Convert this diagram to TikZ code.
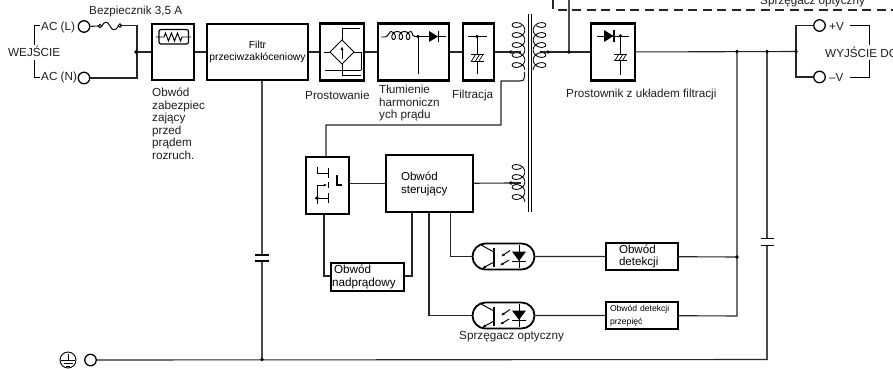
\documentclass[tikz,border=0pt]{standalone}
\usepackage{fontspec}
\setmainfont{Liberation Sans}
\usetikzlibrary{shapes.misc,arrows.meta}
\tikzset{
 x=1pt,y=-1pt,
 wire/.style={line width=1.1pt,draw=black!85},
 sym/.style={line width=.95pt,draw=black},
 tbox/.style={draw=black,line width=2.4pt,inner sep=0pt,fill=white},
 lbl/.style={inner sep=0pt,anchor=west,align=left,font=\fontsize{11.7}{12.5}\selectfont,text=black!88},
 jdot/.style={circle,fill=black,inner sep=0pt,minimum size=3.6pt},
 term/.style={circle,draw=black,line width=1.3pt,fill=white,inner sep=0pt,minimum size=11.5pt},
 plate/.style={line width=1.7pt,draw=black},
 optobox/.style={rounded rectangle,draw=black,line width=1.8pt,inner sep=0pt,minimum width=62pt,minimum height=26pt,fill=white},
}
\newcommand{\coilL}[3]{\draw[sym,line width=.85pt] plot[domain=60:#3,samples=130,smooth,variable=\t] ({#1+6.3*cos(\t)},{#2+\t/36+4.6*sin(\t)});}
\newcommand{\coilR}[3]{\draw[sym,line width=.85pt] plot[domain=60:#3,samples=130,smooth,variable=\t] ({#1-6.3*cos(\t)},{#2+\t/36+4.6*sin(\t)});}
\newcommand{\capfilt}[2]{%
 \draw[sym] (#1-6.5,#2) -- (#1+6.5,#2) (#1-6.5,#2+6.5) -- (#1+6.5,#2+6.5);
 \draw[sym,line width=.7pt] (#1-5.5,#2+6.5) -- (#1-1.5,#2) (#1-1.5,#2+6.5) -- (#1+2.5,#2) (#1+2,#2+6.5) -- (#1+6,#2);}
\newcommand{\optoguts}{%
 \draw[line width=1.8pt] (494,248) -- (494,267);
 \draw[sym] (481,245) -- (494,252);
 \draw[sym,-{Latex[length=4pt,width=3pt]}] (494,262) -- (482,268.5);
 \draw[sym,{Latex[length=3.5pt,width=3pt]}-] (501,256.5) -- (510,250.5);
 \draw[sym,{Latex[length=3.5pt,width=3pt]}-] (500,265.5) -- (509,260);
 \draw[sym] (519,245) -- (519,268);
 \fill (512,251.5) -- (526,251.5) -- (519,261) -- cycle;
 \draw[line width=1.3pt] (512,261.5) -- (526,261.5);}
\begin{document}
\begin{tikzpicture}
\useasboundingbox[fill=white] (0,0) rectangle (893,368);
% coordinates
\coordinate (jin) at (136,52);
\coordinate (fuseA) at (100,26);
\coordinate (fuseB) at (120,25.5);
\coordinate (jp) at (511,52);
\coordinate (js) at (548,52);
\coordinate (jopt) at (569,52);
\coordinate (topA) at (569,0);
\coordinate (dashA) at (553,0);
\coordinate (dashB) at (553,10);
\coordinate (dashC) at (893,10);
\coordinate (j1) at (737,51.5);
\coordinate (j2) at (767,51.5);
\coordinate (j3) at (796,51.5);
\coordinate (jdet) at (737,257);
\coordinate (jdetb) at (737,316);
\coordinate (jgnd) at (262,359.5);
\coordinate (jgndr) at (767,359.5);
\coordinate (capAt) at (262,255);
\coordinate (capAb) at (262,261);
\coordinate (capBt) at (767,238.5);
\coordinate (capBb) at (767,245.5);
\coordinate (jc) at (511,183);
% boxes
\node[tbox,minimum width=42pt,minimum height=56pt] (surge) at (173,52) {};
\node[tbox,minimum width=101pt,minimum height=56pt,align=center,font=\fontsize{10.3}{13}\selectfont] (emi) at (257.5,52) {Filtr\\[-.5pt]przeciwzakłóceniowy};
\node[tbox,minimum width=44pt,minimum height=57pt] (rect) at (342,52) {};
\node[tbox,minimum width=71pt,minimum height=57pt] (harm) at (413.5,52) {};
\node[tbox,minimum width=31pt,minimum height=57pt] (filt) at (478.5,52) {};
\node[tbox,minimum width=44pt,minimum height=57pt] (sec) at (613,52) {};
\node[tbox,line width=1.8pt,minimum width=43pt,minimum height=57pt] (sw) at (327.5,185.5) {};
\node[tbox,minimum width=87pt,minimum height=57pt,text width=57pt,inner xsep=15pt,align=left,font=\fontsize{11.6}{13}\selectfont] (ctl) at (429.5,183.5) {Obwód\\sterujący};
\node[tbox,line width=1.8pt,minimum width=73pt,minimum height=28pt,text width=71pt,inner xsep=1pt,align=left,font=\fontsize{11.7}{13}\selectfont] (ocp) at (367.5,277) {\hspace{2pt}Obwód\\nadprądowy};
\node[tbox,minimum width=72pt,minimum height=27pt,text width=60pt,inner xsep=6pt,align=left,font=\fontsize{11.6}{12.5}\selectfont] (det) at (642,256.5) {\hspace{7pt}Obwód\\\hspace{7pt}detekcji};
\node[tbox,minimum width=72pt,minimum height=27pt,text width=68pt,inner xsep=2pt,align=left,font=\fontsize{8.6}{12.5}\selectfont] (ovp) at (642,315.5) {\hspace{2pt}Obwód detekcji\\\hspace{2pt}przepięć};
\node[optobox] (opA) at (503.5,256.5) {};
\node[optobox] (opB) at (503.5,315.5) {};
% terminals
\node[term] (acl) at (84,26.5) {};
\node[term] (acn) at (84,78) {};
\node[term] (vp) at (819.5,25.5) {};
\node[term] (vm) at (819.5,77) {};
\node[term] (pe) at (90.5,360) {};
% connectors
\draw[wire] (acl) -- (fuseA);
\draw[wire] (fuseB) -- (137,25.5) |- (acn);
\draw[wire] (jin) -- (surge);
\draw[wire] (surge) -- (emi);
\draw[wire] (emi) -- (rect);
\draw[wire] (rect) -- (harm);
\draw[wire] (harm) -- (filt);
\draw[wire] (filt) -- (jp);
\draw[wire] (js) -- (sec);
\draw[wire,draw=black!70,line width=1.3pt] (jopt) -- (topA);
\draw[wire,dash pattern=on 9pt off 5.5pt] (dashA) -- (dashB) -- (dashC);
\draw[wire] (sec) -- (j3);
\draw[wire] (j3) |- (vp);
\draw[wire] (j3) |- (vm);
\draw[wire] (j1) -- (jdetb) -- (ovp);
\draw[wire,draw=black!70,line width=1.3pt] (j2) -- (capBt);
\draw[wire,draw=black!70,line width=1.3pt] (capBb) -- (jgndr);
\draw[wire] (pe) -- (jgndr);
\draw[wire,draw=black!70,line width=1.3pt] (262,81) -- (capAt);
\draw[wire,draw=black!70,line width=1.3pt] (capAb) -- (jgnd);
\draw[wire] (det) -- (jdet);
\draw[wire] (opA) -- (det);
\draw[wire] (opB) -- (ovp);
\draw[wire] (sw.east |- ctl) -- (ctl);
\draw[wire] (ctl) -- (jc);
\draw[wire] (524.5,72) -- (524.5,77) .. controls (524.5,80) and (523,81) .. (520,81) -- (501,81) -- (501,125) -- (326,125) -- (326,156);
\draw[wire] (324,215) -- (324,276) -- (ocp.west |- 0,276);
\draw[wire] (ocp.east |- 0,276) -- (412,276) -- (412,213);
\draw[wire] (429,213) -- (429,315.5) -- (opB);
\draw[wire] (450.5,213) -- (450.5,256.5) -- (opA);
% capacitor plates
\draw[plate] (255,255) -- (268.5,255) (255,261) -- (268.5,261);
\draw[plate] (760.5,238.5) -- (774,238.5) (760.5,245.5) -- (774,245.5);
% junction dots
\foreach \p in {jin,jp,js,jopt,j1,j2,j3,jdet,jgnd,jc} \node[jdot] at (\p) {};
% fuse
\draw[sym] (fuseA) circle (1.8);
\draw[sym] (fuseB) circle (1.8);
\draw[sym] (102,26) .. controls (104,21) and (108,21) .. (110,26) .. controls (112,31) and (116,31) .. (118.5,26);
% surge symbol
\draw[sym,rounded corners=2pt,line width=1.2pt] (159,29.5) rectangle (188.5,44);
\draw[sym] (156,37) -- (164,37) -- (165.5,33) -- (168.5,41) -- (171.5,33) -- (174.5,41) -- (177.5,33) -- (180.5,41) -- (182,37) -- (191,37);
% bridge
\draw[sym] (342,40) -- (330,52) -- (342,64) -- (354,52) -- cycle;
\draw[sym,-{Latex[length=4pt,width=3pt]}] (342,59) -- (342,46);
\draw[sym] (342,40) -- (342,28) -- (360,28);
\draw[sym] (324,52) -- (330,52) (354,52) -- (361,52) -- (361,70) (325,70) -- (361,70);
\draw[sym] (342,64) -- (342,75) -- (361,75);
% harmonics
\draw[sym] (381,37) -- (385,37) .. controls (387,37) and (388,35) .. (390,32);
\draw[sym] plot[domain=0:1080,samples=72,smooth,variable=\t] ({390+\t/50+3.4*sin(\t)},{35.5-4*cos(\t)});
\draw[sym] (411.6,32) .. controls (412.5,35) and (413,36.5) .. (415,36.5) -- (446,36.5);
\node[jdot] (hj) at (418,36.5) {};
\draw[sym] (hj.center) -- (418,74);
\fill (429,31) -- (429,42) -- (438,36.5) -- cycle;
\draw[line width=1.4pt] (438.5,31) -- (438.5,42);
% filter
\draw[sym] (468,36.5) -- (487,36.5);
\node[jdot] (fj) at (477,36.5) {};
\draw[sym] (fj.center) -- (477,74);
\fill[white] (470,54.5) rectangle (484,61);
\capfilt{477}{54.5}
% rectifier secondary
\draw[sym] (597,36) -- (629,36);
\fill (604,30) -- (604,42) -- (613.5,36) -- cycle;
\draw[line width=1.4pt] (614,30) -- (614,42);
\node[jdot] (sj) at (620.5,36) {};
\draw[sym] (sj.center) -- (620.5,75);
\fill[white] (614,54) rectangle (628,60.5);
\capfilt{620.5}{54}
% transformer
\draw[line width=1pt] (528,14) -- (528,212) (531.5,14) -- (531.5,212);
\coilL{518.5}{20}{1800}
\coilR{539.5}{20}{1800}
\coilL{518.5}{162}{1440}
\draw[wire] (511,52) -- (521,52) (541,52) -- (548,52);
\draw[wire] (511,183) -- (521,183);
\node[jdot,minimum size=2.8pt] at (541,52) {};
% switch
\draw[sym] (317,167) -- (317,173) -- (328,173);
\draw[line width=1.5pt] (328.5,168) -- (328.5,178);
\draw[line width=1.5pt] (328.5,182) -- (328.5,188);
\draw[line width=1.5pt] (328.5,193) -- (328.5,203);
\draw[sym] (317,204) -- (317,185);
\draw[sym,-{Latex[length=3pt,width=2.6pt]}] (317,185) -- (327,185);
\draw[sym] (315,198) -- (328,198);
\node[jdot] at (317,198) {};
\draw[line width=1.1pt] (337,175) -- (337,185) -- (342,185);
% optos
\optoguts
\begin{scope}[shift={(0,59)}]\optoguts\end{scope}
% earth
\node[circle,draw=black,line width=.9pt,minimum size=16pt,inner sep=0pt] (gnd) at (68,360) {};
\draw[sym] (68,354) -- (68,360) (61,360) -- (75,360);
\draw[sym] (63.5,363.5) -- (72.5,363.5) (66,366) -- (70,366);
% brackets
\draw[sym] (40,25.5) -- (34,25.5) -- (34,45) (34,60) -- (34,77) -- (40,77);
\draw[sym] (850,25) -- (869,25) -- (869,45) (869,60) -- (869,77) -- (850,77);
% labels
\node[lbl] (t1) at (89,11) {Bezpiecznik 3,5 A};
\node[lbl] (t2) at (41,27) {AC (L)};
\node[lbl] (t3) at (41,77) {AC (N)};
\node[lbl] (t4) at (8,51) {WEJŚCIE};
\node[lbl] (t5) at (152,123.5) {Obwód\\zabezpiec\\zający\\przed\\prądem\\rozruch.};
\node[lbl] (t6) at (305,95) {Prostowanie};
\node[lbl] (t7) at (379,103) {Tłumienie\\harmoniczn\\ych prądu};
\node[lbl] (t8) at (452,95) {Filtracja};
\node[lbl] (t9) at (566,94) {Prostownik z układem filtracji};
\node[lbl] (t10) at (760,2) {Sprzęgacz optyczny};
\node[lbl] (t11) at (829,26) {+V};
\node[lbl] (t12) at (829,77) {–V};
\node[lbl,fill=white] (t13) at (825,52) {WYJŚCIE DC};
\node[lbl] (t14) at (459,337) {Sprzęgacz optyczny};
\end{tikzpicture}
\end{document}
